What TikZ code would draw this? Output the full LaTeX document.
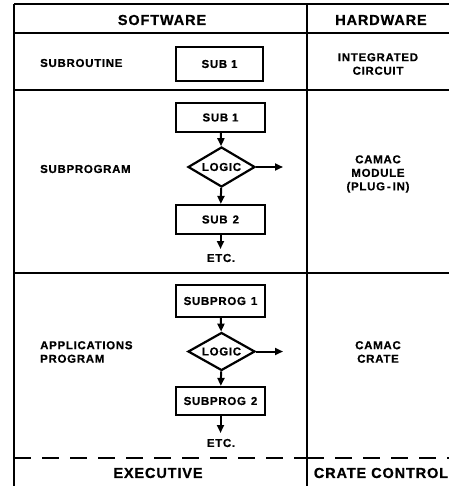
\documentclass[tikz,border=0pt]{standalone}
\usepackage{fontspec}
\newfontfamily\lab[LetterSpace=6,BoldFeatures={FakeBold=0.6}]{Liberation Sans}
\usetikzlibrary{shapes.geometric,arrows.meta}
\tikzset{
  rule/.style={line width=1.8pt},
  dashrule/.style={line width=1.8pt, dash pattern=on 17pt off 11pt},
  box/.style={draw, line width=2.2pt, minimum width=89pt, inner sep=0pt, font=\lab\bfseries\fontsize{11.5}{13}\selectfont},
  logic/.style={draw, diamond, aspect=1.7, line width=2.2pt, inner sep=0pt, minimum width=67pt, minimum height=40pt, font=\lab\bfseries\fontsize{11.5}{13}\selectfont},
  flow/.style={line width=2pt, -{Triangle[length=8pt,width=7pt]}},
  small/.style={font=\lab\bfseries\fontsize{11.5}{13.5}\selectfont, inner sep=0pt},
  big/.style={font=\lab\bfseries\fontsize{14.5}{16}\selectfont, inner sep=0pt},
}
\begin{document}
\begin{tikzpicture}[x=1pt,y=-1pt]
\useasboundingbox (0,0) rectangle (449,486);
% table rules
\coordinate (tl) at (14,4);
\coordinate (tr) at (449,4);
\coordinate (hl) at (14,33);
\coordinate (hr) at (449,33);
\coordinate (r1l) at (14,90);
\coordinate (r1r) at (449,90);
\coordinate (r2l) at (14,273);
\coordinate (r2r) at (449,273);
\coordinate (bl) at (14,486);
\coordinate (dt) at (307,4);
\coordinate (db) at (307,486);
\coordinate (dl) at (14,458);
\coordinate (dm) at (307,458);
\coordinate (dr) at (449,458);
\draw[rule] (tl) -- (tr);
\draw[rule] (hl) -- (hr);
\draw[rule] (r1l) -- (r1r);
\draw[rule] (r2l) -- (r2r);
\draw[rule] (tl) -- (bl);
\draw[rule] (dt) -- (db);
\draw[dashrule] (dl) -- (dm);
\draw[dashrule] (dm) -- (dr);
% headers
\node[big] (sw) at (162,20) {SOFTWARE};
\node[big] (hw) at (381,20) {HARDWARE};
\node[big] (ex) at (158,473) {EXECUTIVE};
\node[big] (cc) at (381,473) {CRATE\hspace{5pt}CONTROL};
% left labels
\node[small, anchor=west] (l1) at (40,63) {SUBROUTINE};
\node[small, anchor=west] (l2) at (40,169) {SUBPROGRAM};
\node[small, anchor=west, align=left] (l3) at (40,352) {APPLICATIONS\\PROGRAM};
% right labels
\node[small, align=center] (h1) at (378,64) {INTEGRATED\\CIRCUIT};
\node[small, align=center] (h2) at (378,174) {CAMAC\\MODULE\\(PLUG\,-\,IN)};
\node[small, align=center] (h3) at (378,352) {CAMAC\\CRATE};
% row 1
\node[box, minimum height=34pt, minimum width=87pt] (s0) at (219.5,64) {SUB 1};
% row 2
\node[box, minimum height=29pt] (a1) at (220.5,117.5) {SUB 1};
\node[logic] (a2) at (221.5,167) {LOGIC};
\node[box, minimum height=29pt] (a3) at (220.5,219.5) {SUB\hspace{5pt}2};
\coordinate (a4) at (220.5,249);
\coordinate (a5) at (283,167);
\node[small] (ae) at (221,258) {ETC.};
\draw[flow] (a1) -- (a2);
\draw[flow] (a2) -- (a3);
\draw[flow] (a3) -- (a4);
\draw[flow] (a2) -- (a5);
% row 3
\node[box, minimum height=32pt] (b1) at (220.5,301) {SUBPROG\hspace{5pt}1};
\node[logic, minimum height=38pt] (b2) at (221.5,351.5) {LOGIC};
\node[box, minimum height=28pt] (b3) at (220.5,401) {SUBPROG\hspace{5pt}2};
\coordinate (b4) at (220.5,433);
\coordinate (b5) at (283,351.5);
\node[small] (be) at (221,443) {ETC.};
\draw[flow] (b1) -- (b2);
\draw[flow] (b2) -- (b3);
\draw[flow] (b3) -- (b4);
\draw[flow] (b2) -- (b5);
\end{tikzpicture}
\end{document}
